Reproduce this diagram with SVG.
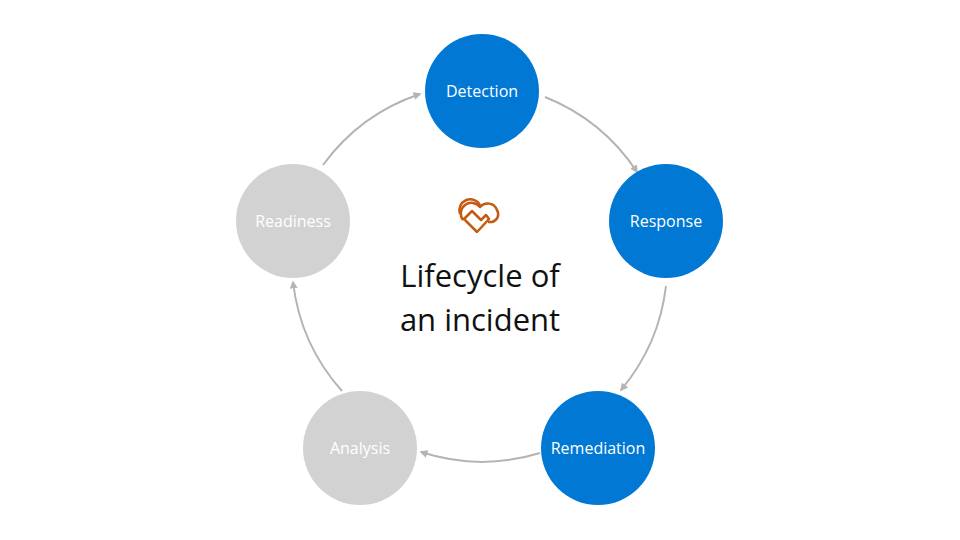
<svg xmlns="http://www.w3.org/2000/svg" width="960" height="540" viewBox="0 0 960 540">
<style>
.b{fill:#0078d4}.g{fill:#d2d2d2}
.t{font-family:"Open Sans","Liberation Sans",sans-serif;font-size:16px;fill:#fff;text-anchor:middle}
.c{fill:none;stroke:#b4b4b4;stroke-width:2;marker-end:url(#a)}
</style>
<defs><marker id="a" viewBox="0 0 10 10" refX="8" refY="5" markerWidth="4" markerHeight="4" orient="auto"><path d="M0,0L10,5L0,10z" fill="#b4b4b4"/></marker></defs>
<rect width="960" height="540" fill="#fff"/>
<g id="connectors">
<path class="c" d="M323,165 A198,198 0 0 1 420,94"/>
<path class="c" d="M545,97 A198,198 0 0 1 637,172"/>
<path class="c" d="M666,286 A198,198 0 0 1 621,390"/>
<path class="c" d="M540,453 A198,198 0 0 1 421,452"/>
<path class="c" d="M342,391 A198,198 0 0 1 293,282"/>
</g>
<g id="detection"><circle class="b" cx="482" cy="91" r="57"/><text class="t" x="482" y="97">Detection</text></g>
<g id="response"><circle class="b" cx="666" cy="221" r="57"/><text class="t" x="666" y="227">Response</text></g>
<g id="remediation"><circle class="b" cx="598" cy="448" r="57"/><text class="t" x="598" y="454">Remediation</text></g>
<g id="analysis"><circle class="g" cx="360" cy="448" r="57"/><text class="t" x="360" y="454">Analysis</text></g>
<g id="readiness"><circle class="g" cx="293" cy="221" r="57"/><text class="t" x="293" y="227">Readiness</text></g>
<g id="center">
<path d="M463,220 A10,10 0 0 1 480,207 A10,10 0 0 1 497,210 A8,8 0 0 1 492,222 L488,222 M463,220 L472,211 L481,220 L486,215 L489,219 L477,232 L465,220" fill="none" stroke="#c55a11" stroke-width="2.5" stroke-linejoin="round"/>
<path d="M460,214 A11,11 0 0 1 480,205" fill="none" stroke="#c55a11" stroke-width="2.5"/>
<text x="480" y="287" font-family="'Open Sans','Liberation Sans',sans-serif" font-size="31" fill="#111" text-anchor="middle">Lifecycle of</text>
<text x="480" y="331" font-family="'Open Sans','Liberation Sans',sans-serif" font-size="31" fill="#111" text-anchor="middle">an incident</text>
</g>
</svg>
